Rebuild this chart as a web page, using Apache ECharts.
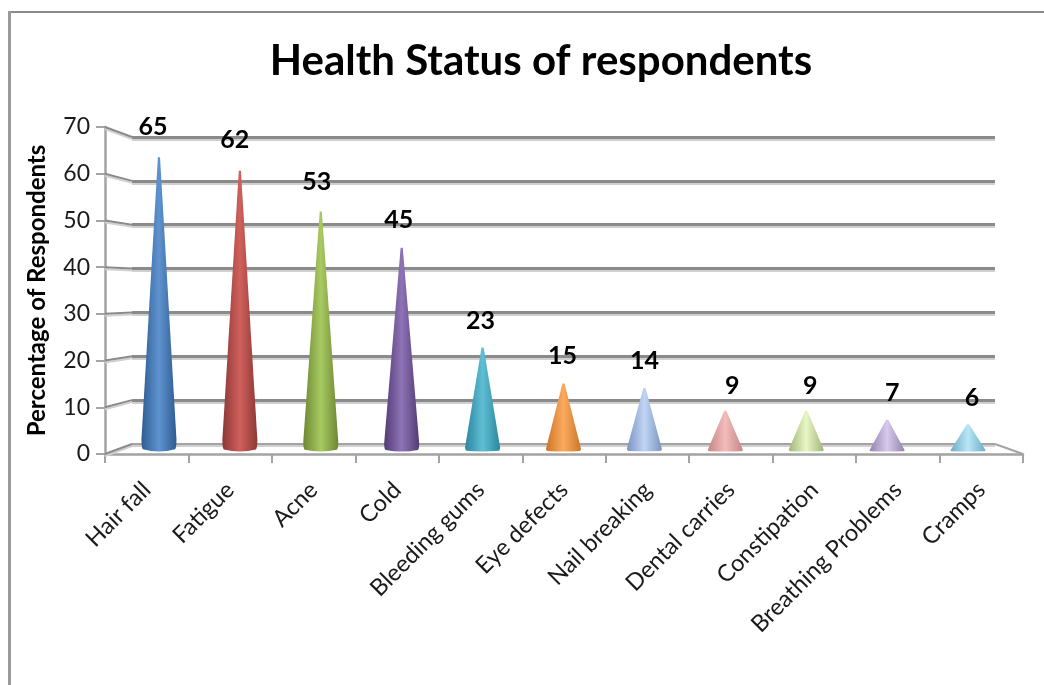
<!DOCTYPE html>
<html>
<head>
<meta charset="utf-8">
<style>
  html, body { margin: 0; padding: 0; background: #fff; }
  #chart { width: 1044px; height: 685px; }
</style>
<script src="https://cdn.jsdelivr.net/npm/echarts@6/dist/echarts.min.js"></script>
</head>
<body>
<div id="chart"></div>
<script>
// Survey results
const categories = ['Hair fall', 'Fatigue', 'Acne', 'Cold', 'Bleeding gums', 'Eye defects',
  'Nail breaking', 'Dental carries', 'Constipation', 'Breathing Problems', 'Cramps'];
const respondents = [65, 62, 53, 45, 23, 15, 14, 9, 9, 7, 6];
const valueTicks = [0, 10, 20, 30, 40, 50, 60, 70];

// Cone shading: outer edge and centre highlight of each cone
const edgeColors = ['#2d5c92', '#8c3836', '#6d8832', '#523c74', '#2b86a0', '#cb7628',
  '#7b94c2', '#c58686', '#a0b67a', '#9283ae', '#6cacc6'];
const centerColors = ['#5f93cf', '#d0605c', '#a8ca62', '#8e73b6', '#5fbed4', '#fbaa5e',
  '#c0d4f4', '#f3bcbc', '#eaf6c6', '#d6c9ec', '#b9e6f6'];
// Hand-placed nudges of the value labels
const labelNudges = [[-6, -3], [-5, -3], [-4, -2], [-3, 0], [-2, 1], [-1, 0], [0, 0], [7, 3], [4, 3], [5, 1], [4, 1]];

// The chart is a pseudo-3D box: a front plane with the axes, a back wall with
// the gridlines, and a plane half way through the depth where the cones stand.
const front = { left: 105, right: 1023, top: 127, bottom: 454 };
const back = { left: 132, right: 995, top: 137, bottom: 444 };
const mid = { left: 118.5, right: 1008.5, top: 134.6, bottom: 451.5 };
const toGrid = (b) => ({ left: b.left, top: b.top, width: b.right - b.left, height: b.bottom - b.top });

const GRID_DARK = '#8a8a8a';
const GRID_SOFT = '#d0d0d0';
const AXIS_GREY = '#a3a3a3';
const TEXT_FONT = 'Lato, "Liberation Sans", sans-serif';

// Cone outline with a small blunt tip and a gently rounded base
const conePath = 'path://M47 0 L53 0 L100 97 Q100 100 96 100.5 Q50 102 4 100.5 Q0 100 0 97 Z';

const chart = echarts.init(document.getElementById('chart'), null, { renderer: 'canvas' });

chart.setOption({
  backgroundColor: '#fff',
  animation: false,
  title: {
    text: 'Health Status of respondents',
    left: 536,
    top: 35,
    textAlign: 'center',
    textStyle: { fontFamily: TEXT_FONT, fontWeight: 'bold', fontSize: 42, color: '#000' }
  },
  // outer frame, open to the right and bottom
  graphic: [
    { type: 'rect', shape: { x: 8, y: 11, width: 1036, height: 2 }, style: { fill: '#8a8a8a' }, silent: true },
    { type: 'rect', shape: { x: 8, y: 11, width: 3, height: 674 }, style: { fill: '#9a9a9a' }, silent: true }
  ],
  grid: [toGrid(mid), toGrid(back), toGrid(front)],
  xAxis: [
    { gridIndex: 0, type: 'category', data: categories, show: false },
    { gridIndex: 1, type: 'category', data: categories, show: false },
    {
      gridIndex: 2, type: 'category', data: categories,
      axisLine: { lineStyle: { color: AXIS_GREY, width: 2.5 } },
      axisTick: { show: true, alignWithLabel: false, length: 9, lineStyle: { color: AXIS_GREY, width: 2 } },
      axisLabel: {
        interval: 0, rotate: 45, margin: 32,
        fontFamily: TEXT_FONT, fontSize: 23.5, color: '#1a1a1a'
      }
    }
  ],
  yAxis: [
    { gridIndex: 0, type: 'value', min: 0, max: 70, show: false },
    {
      gridIndex: 1, type: 'value', min: 0, max: 70, interval: 10,
      axisLine: { show: false }, axisTick: { show: false }, axisLabel: { show: false },
      splitLine: {
        show: true, showMinLine: false,
        lineStyle: { color: GRID_DARK, width: 3, shadowColor: GRID_SOFT, shadowOffsetY: 2, shadowBlur: 0 }
      }
    },
    {
      gridIndex: 2, type: 'value', min: 0, max: 70, interval: 10,
      name: 'Percentage of Respondents',
      nameLocation: 'middle',
      nameGap: 56,
      nameTextStyle: { fontFamily: TEXT_FONT, fontWeight: 'bold', fontSize: 24, color: '#000' },
      axisLine: { show: true, lineStyle: { color: AXIS_GREY, width: 2.5 } },
      axisTick: { show: true, length: 9, lineStyle: { color: AXIS_GREY, width: 2 } },
      axisLabel: { margin: 15, fontFamily: TEXT_FONT, fontSize: 23, color: '#1a1a1a' },
      splitLine: { show: false }
    }
  ],
  series: [
    {
      // left side wall and floor edges joining the front plane to the back wall
      type: 'custom',
      xAxisIndex: 2,
      yAxisIndex: 2,
      z: 1,
      silent: true,
      data: valueTicks,
      encode: { y: 0 },
      renderItem: (params, api) => {
        const v = api.value(0);
        const x0 = params.coordSys.x;
        const y0 = chart.convertToPixel({ yAxisIndex: 2 }, v);
        const y1 = chart.convertToPixel({ yAxisIndex: 1 }, v);
        const children = [{
          type: 'line',
          shape: { x1: x0, y1: y0, x2: back.left, y2: y1 },
          style: { stroke: GRID_DARK, lineWidth: 2, shadowColor: GRID_SOFT, shadowOffsetY: 2, shadowBlur: 0 }
        }];
        if (v === 0) {
          children.push(
            { type: 'line', shape: { x1: back.left, y1, x2: back.right, y2: y1 },
              style: { stroke: AXIS_GREY, lineWidth: 2, shadowColor: GRID_SOFT, shadowOffsetY: 2, shadowBlur: 0 } },
            { type: 'line', shape: { x1: back.right, y1, x2: x0 + params.coordSys.width, y2: y0 },
              style: { stroke: AXIS_GREY, lineWidth: 2 } }
          );
        }
        return { type: 'group', children };
      }
    },
    {
      type: 'pictorialBar',
      xAxisIndex: 0,
      yAxisIndex: 0,
      z: 3,
      symbol: conePath,
      symbolSize: [35, '100%'],
      symbolPosition: 'start',
      label: {
        show: true,
        position: 'top',
        distance: 15,
        fontFamily: TEXT_FONT,
        fontWeight: 'bold',
        fontSize: 25,
        color: '#000'
      },
      data: respondents.map((value, i) => ({
        value,
        itemStyle: {
          color: new echarts.graphic.LinearGradient(0, 0, 1, 0, [
            { offset: 0, color: edgeColors[i] },
            { offset: 0.5, color: centerColors[i] },
            { offset: 1, color: edgeColors[i] }
          ])
        },
        label: { offset: labelNudges[i] }
      }))
    }
  ]
});
</script>
</body>
</html>
